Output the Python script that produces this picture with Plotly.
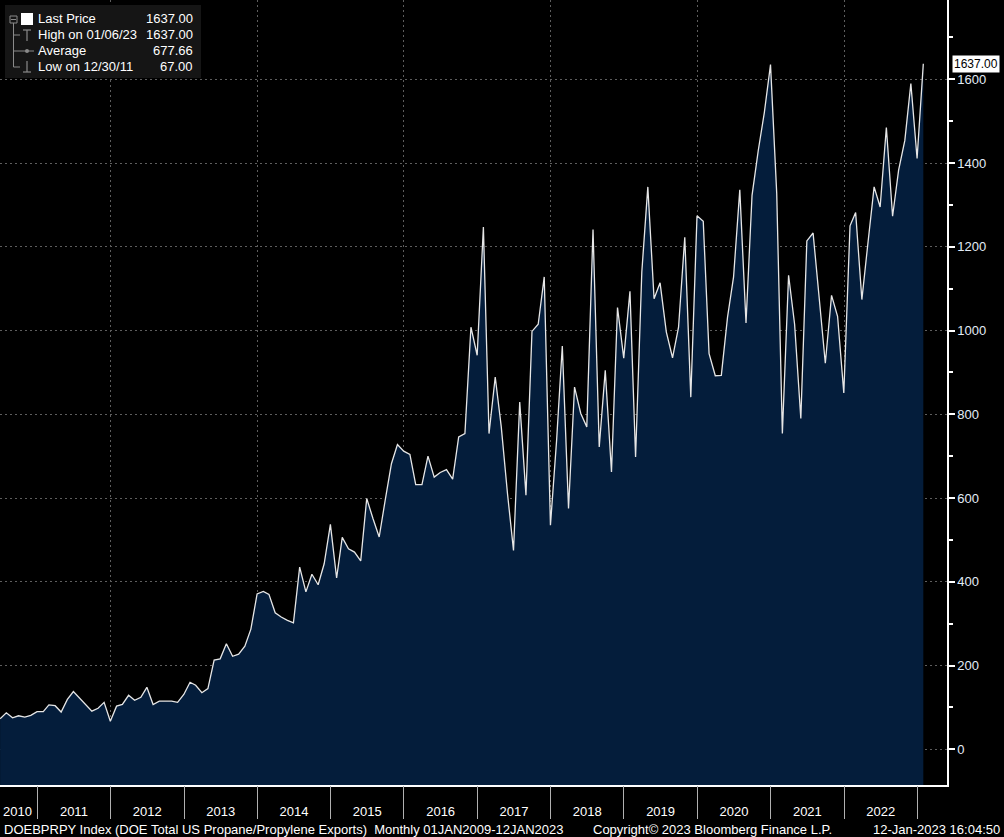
import pandas as pd
import plotly.graph_objects as go

# ---------------- data ----------------
START_MONTH = "2010-06-30"
exports = [
    73, 87, 75, 80, 77, 81, 90,
    90, 106, 104, 89, 119, 138, 123, 107, 91, 98, 112, 67,
    103, 107, 129, 117, 124, 148, 107, 115, 115, 115, 112, 131,
    160, 153, 135, 145, 213, 216, 252, 222, 227, 246, 287, 371,
    377, 370, 326, 316, 308, 302, 435, 376, 418, 393, 443, 537,
    409, 506, 479, 471, 450, 599, 551, 507, 595, 682, 728, 712,
    704, 632, 632, 700, 650, 661, 668, 645, 746, 754, 1008, 941,
    1247, 754, 889, 770, 611, 475, 829, 607, 998, 1015, 1128, 535,
    740, 963, 575, 865, 802, 770, 1241, 722, 905, 662, 1055, 934,
    1094, 698, 1140, 1343, 1076, 1114, 997, 935, 1008, 1223, 841, 1274,
    1261, 945, 892, 893, 1032, 1128, 1336, 1018, 1323, 1430, 1520, 1635,
    1327, 754, 1132, 1015, 790, 1214, 1233, 1080, 922, 1084, 1034, 851,
    1250, 1282, 1074, 1208, 1343, 1295, 1485, 1273, 1383, 1454, 1590, 1411,
    1637,
]
try:
    months = pd.date_range(START_MONTH, periods=len(exports), freq="ME")
except Exception:
    months = pd.date_range(START_MONTH, periods=len(exports), freq="M")

legend_labels = ["Last Price", "High on 01/06/23", "Average", "Low on 12/30/11"]
legend_values = ["1637.00", "1637.00", "677.66", "67.00"]
last_label = "1637.00"

footer_left = "DOEBPRPY Index (DOE Total US Propane/Propylene Exports)  Monthly 01JAN2009-12JAN2023"
footer_mid = "Copyright\u00a9 2023 Bloomberg Finance L.P."
footer_right = "12-Jan-2023 16:04:50"

X_RANGE = ["2010-06-29 12:00", "2023-05-29"]
Y_RANGE = [-85.3, 1789.4]
Y_TICKS = [0, 200, 400, 600, 800, 1000, 1200, 1400, 1600]

# ---------------- figure ----------------
W, H = 1004, 837
ML, MR, MT, MB = 0, 57, 0, 52
PW, PH = W - ML - MR, H - MT - MB
FONT = "Liberation Sans, Arial, sans-serif"
FILL = "#041d3b"


def px(xp):
    return xp / PW


def py(yp):
    return 1 - yp / PH


fig = go.Figure()
# baseline for the fill down to the axis
fig.add_trace(go.Scatter(x=months, y=[Y_RANGE[0]] * len(months), mode="lines",
                         line=dict(width=0, color=FILL), showlegend=False,
                         hoverinfo="skip"))
fig.add_trace(go.Scatter(x=months, y=exports, mode="lines", fill="tonexty",
                         fillcolor=FILL, line=dict(color="#e6e6e6", width=1.3),
                         showlegend=False, name="Last Price"))
# helper trace on the grid/tick axis
fig.add_trace(go.Scatter(x=[months[0]], y=[None], xaxis="x2", mode="lines",
                         showlegend=False, hoverinfo="skip"))

shapes = []
annotations = []

# legend box
shapes.append(dict(type="rect", xref="paper", yref="paper", x0=px(5), x1=px(201),
                   y0=py(78), y1=py(5), fillcolor="#151515", line=dict(width=0),
                   layer="above"))
rows_y = [19, 35, 51, 67]
grey = "#8a8a8a"
# tree lines
shapes.append(dict(type="rect", xref="paper", yref="paper", x0=px(10), x1=px(17),
                   y0=py(23), y1=py(16), line=dict(color=grey, width=1), layer="above"))
shapes.append(dict(type="line", xref="paper", yref="paper", x0=px(11), x1=px(16),
                   y0=py(19.5), y1=py(19.5), line=dict(color=grey, width=1), layer="above"))
shapes.append(dict(type="line", xref="paper", yref="paper", x0=px(13.5), x1=px(13.5),
                   y0=py(23), y1=py(67), line=dict(color=grey, width=1), layer="above"))
for ry in rows_y[1:]:
    shapes.append(dict(type="line", xref="paper", yref="paper", x0=px(13.5), x1=px(20),
                       y0=py(ry), y1=py(ry), line=dict(color=grey, width=1), layer="above"))
# white square
shapes.append(dict(type="rect", xref="paper", yref="paper", x0=px(21), x1=px(33),
                   y0=py(25), y1=py(13), fillcolor="white", line=dict(width=0), layer="above"))
# high symbol
shapes.append(dict(type="line", xref="paper", yref="paper", x0=px(23), x1=px(31),
                   y0=py(30), y1=py(30), line=dict(color=grey, width=1.2), layer="above"))
shapes.append(dict(type="line", xref="paper", yref="paper", x0=px(27), x1=px(27),
                   y0=py(30), y1=py(41), line=dict(color=grey, width=1.2), layer="above"))
# average symbol
shapes.append(dict(type="line", xref="paper", yref="paper", x0=px(20), x1=px(34),
                   y0=py(51), y1=py(51), line=dict(color=grey, width=1), layer="above"))
shapes.append(dict(type="circle", xref="paper", yref="paper", x0=px(25), x1=px(29),
                   y0=py(53), y1=py(49), fillcolor=grey, line=dict(width=0), layer="above"))
# low symbol
shapes.append(dict(type="line", xref="paper", yref="paper", x0=px(23), x1=px(31),
                   y0=py(72), y1=py(72), line=dict(color=grey, width=1.2), layer="above"))
shapes.append(dict(type="line", xref="paper", yref="paper", x0=px(27), x1=px(27),
                   y0=py(61), y1=py(72), line=dict(color=grey, width=1.2), layer="above"))

for ry, lab, val in zip(rows_y, legend_labels, legend_values):
    annotations.append(dict(xref="paper", yref="paper", x=px(36), y=py(ry), text=lab,
                            showarrow=False, xanchor="left", yanchor="middle",
                            font=dict(family=FONT, size=13, color="white")))
    annotations.append(dict(xref="paper", yref="paper", x=px(195), y=py(ry), text=val,
                            showarrow=False, xanchor="right", yanchor="middle",
                            font=dict(family=FONT, size=13, color="white")))

# last price tag
annotations.append(dict(xref="paper", yref="y", x=1, y=exports[-1], text=last_label,
                        showarrow=False, xanchor="left", yanchor="middle", xshift=5,
                        bgcolor="white", borderpad=1,
                        font=dict(family=FONT, size=12, color="black")))

# 2010 partial label
annotations.append(dict(xref="paper", yref="paper", x=0, y=py(811), text="2010",
                        showarrow=False, xanchor="left", yanchor="middle", xshift=1,
                        font=dict(family=FONT, size=13, color="white")))

# footer
annotations.append(dict(xref="paper", yref="paper", x=px(2), y=py(829), text=footer_left,
                        showarrow=False, xanchor="left", yanchor="middle",
                        font=dict(family=FONT, size=13, color="white")))
annotations.append(dict(xref="paper", yref="paper", x=px(591), y=py(829), text=footer_mid,
                        showarrow=False, xanchor="left", yanchor="middle",
                        font=dict(family=FONT, size=13, color="white")))
annotations.append(dict(xref="paper", yref="paper", x=(1002 - ML) / PW, y=py(829),
                        text=footer_right, showarrow=False, xanchor="right",
                        yanchor="middle",
                        font=dict(family=FONT, size=13, color="white")))

fig.update_layout(
    width=W, height=H,
    margin=dict(l=ML, r=MR, t=MT, b=MB),
    paper_bgcolor="black", plot_bgcolor="black",
    showlegend=False,
    font=dict(family=FONT, size=13, color="white"),
    xaxis=dict(type="date", range=X_RANGE, showgrid=False, zeroline=False,
               ticks="", dtick="M12", tick0="2011-01-01", tickformat="%Y",
               ticklabelmode="period", ticklabelstandoff=14,
               showline=True, linecolor="white", linewidth=1.5,
               tickfont=dict(family=FONT, size=13, color="white")),
    xaxis2=dict(type="date", range=X_RANGE, overlaying="x", side="bottom",
                showticklabels=False, showline=False, zeroline=False,
                dtick="M24", tick0="2012-01-01", ticks="outside", ticklen=33,
                tickcolor="#b0b0b0", tickwidth=1,
                showgrid=True, gridcolor="#5e5e5e", griddash="2px,3px", gridwidth=1,
                minor=dict(dtick="M12", tick0="2011-01-01", ticks="outside",
                           ticklen=33, tickcolor="#b0b0b0", tickwidth=1,
                           showgrid=False)),
    yaxis=dict(side="right", range=Y_RANGE, tickvals=Y_TICKS, showgrid=True,
               gridcolor="#5e5e5e", griddash="2px,3px", gridwidth=1, zeroline=False,
               ticks="outside", ticklen=6, tickwidth=2, tickcolor="white",
               showline=True, linecolor="white", linewidth=1.5,
               minor=dict(dtick=100, ticks="outside", ticklen=4,
                          tickcolor="white", showgrid=False),
               tickfont=dict(family=FONT, size=13, color="#e3ecf7")),
    shapes=shapes,
    annotations=annotations,
)

fig.write_html(
    "out.html",
    config={"displayModeBar": False},
    post_script="document.body.style.margin='0';document.body.style.background='black';",
)
